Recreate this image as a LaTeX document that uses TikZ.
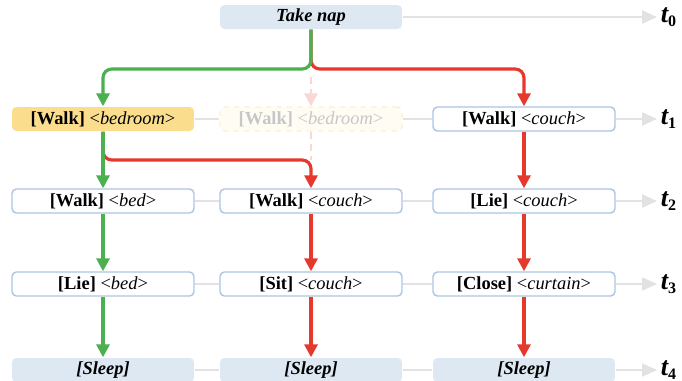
\documentclass[tikz,border=0pt]{standalone}
\usepackage{fontspec}
\setmainfont{Liberation Serif}
\usetikzlibrary{arrows.meta,positioning}
\definecolor{boxblue}{RGB}{172,197,227}
\definecolor{napblue}{RGB}{222,232,243}
\definecolor{walkyellow}{RGB}{250,222,142}
\definecolor{pathgreen}{RGB}{76,175,80}
\definecolor{pathred}{RGB}{229,57,45}
\definecolor{rowgray}{RGB}{226,226,226}

\begin{document}
\begin{tikzpicture}[x=0.02cm,y=-0.02cm,
  every node/.style={font=\fontsize{10.5}{12}\selectfont},
  act/.style={draw=boxblue,fill=white,rounded corners=2.5pt,line width=0.8pt,
    minimum width=3.64cm,minimum height=0.48cm,inner sep=1pt},
  goal/.style={act,draw=none,fill=napblue,font=\fontsize{10.5}{12}\selectfont\bfseries\itshape},
  ghost/.style={act,dashed,draw=walkyellow!45,fill=walkyellow!10,text=black!22},
  rowline/.style={rowgray,line width=1.2pt},
  rowarrow/.style={rowline,-{Triangle[length=3mm,width=2.6mm]}},
  gline/.style={pathgreen,line width=1.8pt,rounded corners=5pt,-{Triangle[length=2.6mm,width=2.6mm]}},
  rline/.style={gline,pathred},
  fadeline/.style={pathred!20,line width=1.5pt,dash pattern=on 4pt off 3pt},
  tlabel/.style={inner sep=2pt}]
  \useasboundingbox (0,0) rectangle (682,380);

  % Goal
  \node[goal] (nap) at (311,17) {Take nap};

  % Step 1
  \node[act,draw=none,fill=walkyellow] (s11) at (103,119) {\textbf{[Walk]} <\textit{bedroom}>};
  \node[ghost] (s12) at (311,119) {\textbf{[Walk]} <\textit{bedroom}>};
  \node[act] (s13) at (524,119) {\textbf{[Walk]} <\textit{couch}>};

  % Step 2
  \node[act] (s21) at (103,201) {\textbf{[Walk]} <\textit{bed}>};
  \node[act] (s22) at (311,201) {\textbf{[Walk]} <\textit{couch}>};
  \node[act] (s23) at (524,201) {\textbf{[Lie]} <\textit{couch}>};

  % Step 3
  \node[act] (s31) at (103,284) {\textbf{[Lie]} <\textit{bed}>};
  \node[act] (s32) at (311,284) {\textbf{[Sit]} <\textit{couch}>};
  \node[act] (s33) at (524,284) {\textbf{[Close]} <\textit{curtain}>};

  % Step 4
  \foreach \c/\x in {1/103,2/311,3/524} {
    \node[goal] (s4\c) at (\x,370) {[Sleep]};
  }

  % Time labels
  \foreach \r/\y in {0/17,1/119,2/201,3/284,4/370} {
    \node[tlabel] (t\r) at (669,\y) {{\fontsize{15}{16}\selectfont\bfseries\itshape t}{\fontsize{13}{14}\selectfont\textsubscript{\bfseries\r}}};
  }

  % Row lines
  \draw[rowarrow] (nap) -- (t0);
  \foreach \r in {1,2,3,4} {
    \draw[rowline] (s\r1) -- (s\r2);
    \draw[rowline] (s\r2) -- (s\r3);
    \draw[rowarrow] (s\r3) -- (t\r);
  }

  % Pruned branch
  \coordinate (fade) at (311,77);
  \coordinate (fork2) at (103,160);
  \draw[fadeline,-{Triangle[length=2.6mm,width=2.6mm]}] (fade) -- (s12.north);
  \draw[fadeline] (s12.south) -- (s12.south |- fork2);

  % Branches
  \coordinate (fork) at (311,69);
  \draw[rline] (nap.south) -- (fork) -| (s13.north);
  \draw[gline] (nap.south) -- (fork) -| (s11.north);
  \draw[rline] (s11.south) -- (fork2) -| (s22.north);
  \draw[gline] (s11) -- (s21);
  \draw[gline] (s21) -- (s31);
  \draw[gline] (s31) -- (s41);
  \draw[rline] (s22) -- (s32);
  \draw[rline] (s32) -- (s42);
  \draw[rline] (s13) -- (s23);
  \draw[rline] (s23) -- (s33);
  \draw[rline] (s33) -- (s43);
\end{tikzpicture}
\end{document}
